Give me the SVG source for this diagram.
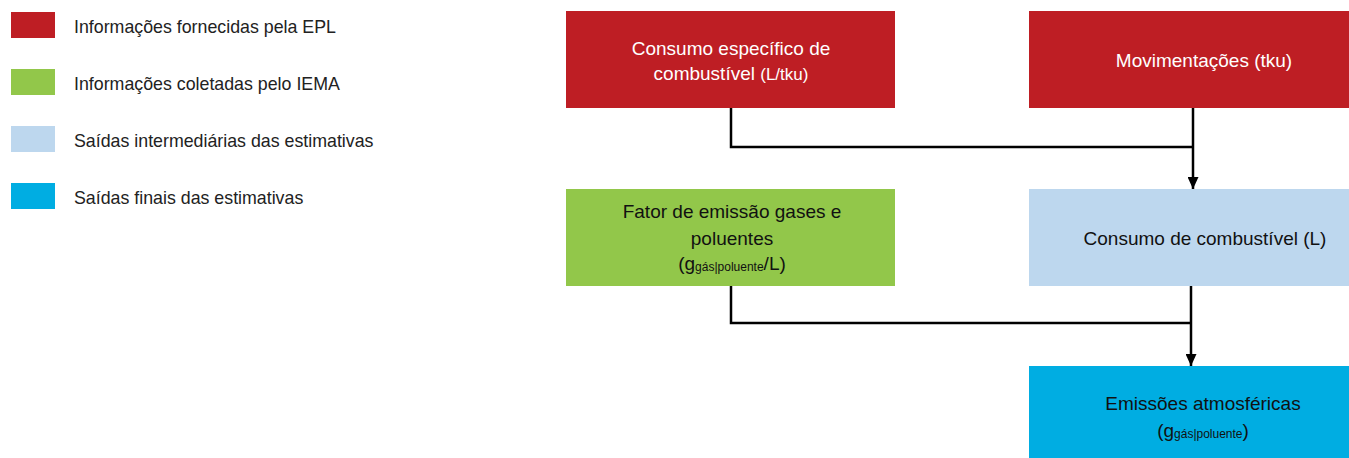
<svg xmlns="http://www.w3.org/2000/svg" width="1349" height="458" viewBox="0 0 1349 458">
<style>
text{font-family:"Liberation Sans",Arial,sans-serif;}
.leg{font-size:17.8px;fill:#222;}
.t{font-size:19px;fill:#111;text-anchor:middle;}
.w{fill:#fff;}
.sm{font-size:12px;}
.red{fill:#BE1E24;}
.grn{fill:#92C74A;}
.lb{fill:#BDD7EE;}
.cy{fill:#00ADE2;}
.ln{fill:none;stroke:#000;stroke-width:2.5;}
</style>
<defs>
<marker id="ah" viewBox="0 0 12 11" refX="12" refY="5.5" markerWidth="12" markerHeight="11" markerUnits="userSpaceOnUse" orient="auto">
<path d="M0,0 L12,5.5 L0,11 Z" fill="#000"/>
</marker>
</defs>
<g id="legend">
<rect class="red" x="11" y="12" width="44" height="26"/>
<text class="leg" x="74" y="33">Informações fornecidas pela EPL</text>
<rect class="grn" x="11" y="69" width="44" height="26"/>
<text class="leg" x="74" y="90">Informações coletadas pelo IEMA</text>
<rect class="lb" x="11" y="126" width="44" height="26"/>
<text class="leg" x="74" y="147">Saídas intermediárias das estimativas</text>
<rect class="cy" x="11" y="183" width="44" height="26"/>
<text class="leg" x="74" y="204">Saídas finais das estimativas</text>
</g>
<g id="connectors">
<path class="ln" d="M731,108 V147 H1193"/>
<path class="ln" d="M1193,108 V189" marker-end="url(#ah)"/>
<path class="ln" d="M731,286 V323 H1191"/>
<path class="ln" d="M1191,286 V366" marker-end="url(#ah)"/>
</g>
<g id="consumo-especifico">
<rect class="red" x="566" y="11" width="329" height="97"/>
<text class="t w" x="731" y="55">Consumo específico de</text>
<text class="t w" x="731" y="80">combustível <tspan font-size="17">(L/tku)</tspan></text>
</g>
<g id="movimentacoes">
<rect class="red" x="1029" y="11" width="320" height="97"/>
<text class="t w" x="1204" y="67">Movimentações (tku)</text>
</g>
<g id="fator-emissao">
<rect class="grn" x="566" y="189" width="329" height="97"/>
<text class="t" x="732" y="218">Fator de emissão gases e</text>
<text class="t" x="732" y="245">poluentes</text>
<text class="t" x="732" y="270">(g<tspan class="sm" dy="1">gás|poluente</tspan><tspan dy="-1">/L)</tspan></text>
</g>
<g id="consumo-combustivel">
<rect class="lb" x="1029" y="189" width="320" height="97"/>
<text class="t" x="1205" y="245">Consumo de combustível (L)</text>
</g>
<g id="emissoes">
<rect class="cy" x="1029" y="366" width="320" height="92"/>
<text class="t" x="1203" y="410">Emissões atmosféricas</text>
<text class="t" x="1203" y="437">(g<tspan class="sm" dy="1">gás|poluente</tspan><tspan dy="-1">)</tspan></text>
</g>
</svg>
